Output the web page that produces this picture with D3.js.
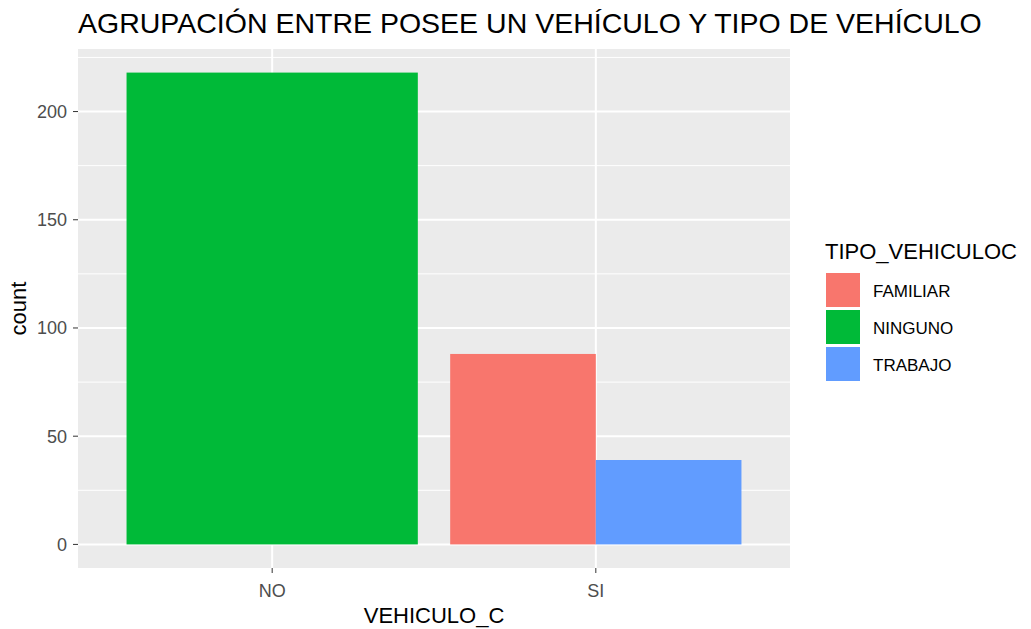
<!DOCTYPE html>
<html>
<head>
<meta charset="utf-8">
<script src="https://cdn.jsdelivr.net/npm/d3@7"></script>
<style>
  body { margin: 0; background: #fff; }
  text { font-family: "Liberation Sans", Arial, sans-serif; }
</style>
</head>
<body>
<div id="chart"></div>
<script>
// data
const groups = ["NO", "SI"];
const tipos = ["FAMILIAR", "NINGUNO", "TRABAJO"];
const colors = ["#F8766D", "#00BA38", "#619CFF"];
const counts = [
  { grupo: "NO", tipo: "NINGUNO", n: 218 },
  { grupo: "SI", tipo: "FAMILIAR", n: 88 },
  { grupo: "SI", tipo: "TRABAJO", n: 39 }
];
const yTicks = [0, 50, 100, 150, 200];
const yMinor = [25, 75, 125, 175, 225];

const W = 1031, H = 629;
const panel = { left: 78, top: 49, right: 790, bottom: 568 };

const svg = d3.select("#chart").append("svg")
  .attr("width", W).attr("height", H);

const maxN = d3.max(counts, d => d.n);
const y = d3.scaleLinear()
  .domain([-0.05 * maxN, maxN * 1.05])
  .range([panel.bottom, panel.top]);

// discrete x like ggplot: positions 1..n, expand 0.6
const xPos = d3.scaleLinear()
  .domain([0.4, groups.length + 0.6])
  .range([panel.left, panel.right]);
const xc = g => xPos(groups.indexOf(g) + 1);
const color = d3.scaleOrdinal().domain(tipos).range(colors);

// panel background
svg.append("rect")
  .attr("x", panel.left).attr("y", panel.top)
  .attr("width", panel.right - panel.left)
  .attr("height", panel.bottom - panel.top)
  .attr("fill", "#EBEBEB");

// grid
svg.selectAll(".minor").data(yMinor).join("line")
  .attr("x1", panel.left).attr("x2", panel.right)
  .attr("y1", d => y(d)).attr("y2", d => y(d))
  .attr("stroke", "#fff").attr("stroke-width", 1);
svg.selectAll(".major").data(yTicks).join("line")
  .attr("x1", panel.left).attr("x2", panel.right)
  .attr("y1", d => y(d)).attr("y2", d => y(d))
  .attr("stroke", "#fff").attr("stroke-width", 2);
svg.selectAll(".vmajor").data(groups).join("line")
  .attr("x1", d => xc(d)).attr("x2", d => xc(d))
  .attr("y1", panel.top).attr("y2", panel.bottom)
  .attr("stroke", "#fff").attr("stroke-width", 2);

// bars, dodged within each group (width 0.9)
const unit = xPos(1) - xPos(0);
const barW = 0.9 * unit;
counts.forEach(d => {
  const inGroup = counts.filter(c => c.grupo === d.grupo);
  const k = inGroup.length;
  const i = inGroup.indexOf(d);
  const w = barW / k;
  const x0 = xc(d.grupo) - barW / 2 + i * w;
  svg.append("rect")
    .attr("x", x0).attr("width", w)
    .attr("y", y(d.n)).attr("height", y(0) - y(d.n))
    .attr("fill", color(d.tipo));
});

// y axis ticks and labels
svg.selectAll(".yt").data(yTicks).join("line")
  .attr("x1", panel.left - 5).attr("x2", panel.left)
  .attr("y1", d => y(d)).attr("y2", d => y(d))
  .attr("stroke", "#333").attr("stroke-width", 1);
svg.selectAll(".yl").data(yTicks).join("text")
  .attr("x", panel.left - 11).attr("y", d => y(d))
  .attr("dy", "0.36em").attr("text-anchor", "end")
  .attr("font-size", 18).attr("fill", "#4D4D4D")
  .text(d => d);

// x axis ticks and labels
svg.selectAll(".xt").data(groups).join("line")
  .attr("x1", d => xc(d)).attr("x2", d => xc(d))
  .attr("y1", panel.bottom).attr("y2", panel.bottom + 5)
  .attr("stroke", "#333").attr("stroke-width", 1);
svg.selectAll(".xl").data(groups).join("text")
  .attr("x", d => xc(d)).attr("y", 597)
  .attr("text-anchor", "middle")
  .attr("font-size", 18).attr("fill", "#4D4D4D")
  .text(d => d);

// axis titles
svg.append("text")
  .attr("x", (panel.left + panel.right) / 2).attr("y", 623)
  .attr("text-anchor", "middle").attr("font-size", 22).attr("fill", "#000")
  .text("VEHICULO_C");
svg.append("text")
  .attr("transform", `translate(26,${(panel.top + panel.bottom) / 2}) rotate(-90)`)
  .attr("text-anchor", "middle").attr("font-size", 22).attr("fill", "#000")
  .text("count");

// title
svg.append("text")
  .attr("x", panel.left).attr("y", 33)
  .attr("font-size", 28.5).attr("fill", "#000")
  .text("AGRUPACIÓN ENTRE POSEE UN VEHÍCULO Y TIPO DE VEHÍCULO");

// legend
const lg = svg.append("g").attr("transform", "translate(826,0)");
lg.append("text").attr("x", -1).attr("y", 259)
  .attr("font-size", 22).attr("fill", "#000").text("TIPO_VEHICULOC");
tipos.forEach((t, i) => {
  const ky = 273 + i * 37;
  lg.append("rect").attr("x", 0).attr("y", ky)
    .attr("width", 34).attr("height", 34)
    .attr("fill", color(t));
  lg.append("text").attr("x", 47).attr("y", ky + 18)
    .attr("dy", "0.36em").attr("font-size", 17).attr("fill", "#000")
    .text(t);
});
</script>
</body>
</html>
